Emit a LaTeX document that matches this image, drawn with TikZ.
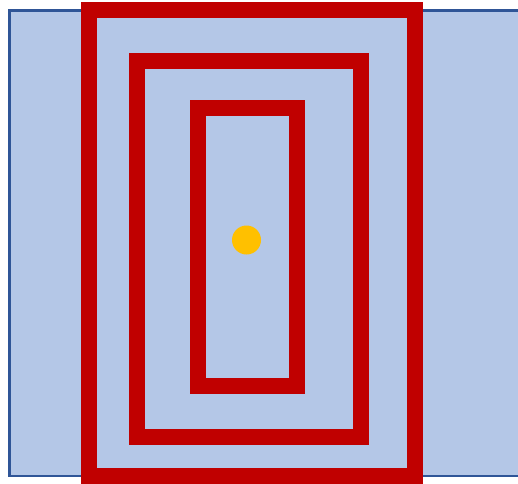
\documentclass[tikz,border=0pt]{standalone}
\definecolor{bgblue}{HTML}{B4C7E7}
\definecolor{edgeblue}{HTML}{2F5597}
\definecolor{coilred}{HTML}{C00000}
\definecolor{dotyellow}{HTML}{FFC000}
\begin{document}
\begin{tikzpicture}[x=1pt,y=-1pt,
  coil/.style={draw=coilred,line width=16pt,line join=miter},
  plate/.style={fill=bgblue,draw=edgeblue,line width=2.5pt}]
\useasboundingbox (0,0) rectangle (518,483);
\path[fill=white] (0,0) rectangle (518,483);
\fill[bgblue] (9.5,10.5) rectangle (518,476);
\draw[edgeblue,line width=2.5pt] (518,10.5) -- (9.5,10.5) -- (9.5,476) -- (518,476);
\draw[coil] (89.3,10) rectangle (414.7,475.5);
\draw[coil] (137.3,61.3) rectangle (361.3,437);
\draw[coil] (197.5,108.3) rectangle (297.2,385.5);
\fill[dotyellow] (246.5,240) circle (14.5);
\end{tikzpicture}
\end{document}
